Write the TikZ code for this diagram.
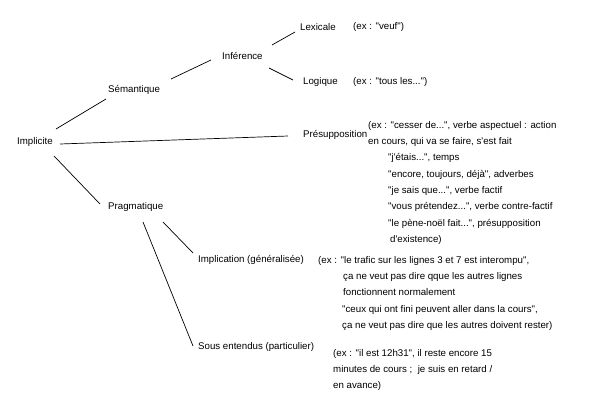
\documentclass[tikz,border=0pt]{standalone}
\usepackage{fontspec}
\setmainfont{Liberation Sans}[Ligatures={TeXOff,CommonOff}]
\begin{document}
\begin{tikzpicture}[x=1pt,y=-1pt,
  lbl/.style={anchor=west,inner sep=0pt,font=\fontsize{9.7}{16.3}\selectfont},
  blk/.style={anchor=north west,inner sep=0pt,align=left,font=\fontsize{9.7}{16.3}\selectfont},
  conn/.style={line width=0.7pt}]
\fill[white] (0,0) rectangle (594,410);
\useasboundingbox (0,0) rectangle (594,410);
\node[lbl] (impl) at (17,142) {Implicite};
\node[lbl] (sem) at (108,90) {Sémantique};
\node[lbl] (inf) at (222,56) {Inférence};
\node[lbl] (lex) at (300,27) {Lexicale};
\node[lbl] (lexex) at (353,27) {(ex : "veuf")};
\node[lbl] (log) at (303,82) {Logique};
\node[lbl] (logex) at (353,82) {(ex : "tous les...")};
\node[lbl] (pres) at (303,135) {Présupposition};
\node[blk] (presex) at (368,121) {(ex : "cesser de...", verbe aspectuel : action\\
en cours, qui va se faire, s'est fait\\
\hspace*{20pt}"j'étais...", temps\\
\hspace*{20pt}"encore, toujours, déjà", adverbes\\
\hspace*{20pt}"je sais que...", verbe factif\\
\hspace*{20pt}"vous prétendez...", verbe contre-factif\\
\hspace*{20pt}"le pène-noël fait...", présupposition\\
\hspace*{22pt}d'existence)};
\node[lbl] (prag) at (108,207) {Pragmatique};
\node[lbl] (implic) at (198,260) {Implication (généralisée)};
\node[blk] (implicex) at (318,256) {(ex : "le trafic sur les lignes 3 et 7 est interompu",\\
\hspace*{25pt}ça ne veut pas dire qque les autres lignes\\
\hspace*{25pt}fonctionnent normalement\\
\hspace*{24pt}"ceux qui ont fini peuvent aller dans la cours",\\
\hspace*{24pt}ça ne veut pas dire que les autres doivent rester)};
\node[lbl] (sous) at (198,347) {Sous entendus (particulier)};
\node[blk] (sousex) at (333,349) {(ex : "il est 12h31", il reste encore 15\\
minutes de cours ;\ \ je suis en retard /\\
en avance)};
\draw[conn] ([shift={(39,-13)}]impl.west) -- ([shift={(-2,9)}]sem.west);
\draw[conn] ([shift={(63,-11)}]sem.west) -- ([shift={(-11,4)}]inf.west);
\draw[conn] ([shift={(50,-11)}]inf.west) -- ([shift={(-5,5)}]lex.west);
\draw[conn] ([shift={(47,12)}]inf.west) -- ([shift={(-10,-2)}]log.west);
\draw[conn] ([shift={(43,2)}]impl.west) -- ([shift={(-15,1)}]pres.west);
\draw[conn] ([shift={(37,14)}]impl.west) -- ([shift={(-8,-3)}]prag.west);
\draw[conn] ([shift={(55,15)}]prag.west) -- ([shift={(-5,-7)}]implic.west);
\draw[conn] ([shift={(35,15)}]prag.west) -- ([shift={(-5,-1)}]sous.west);
\end{tikzpicture}
\end{document}
